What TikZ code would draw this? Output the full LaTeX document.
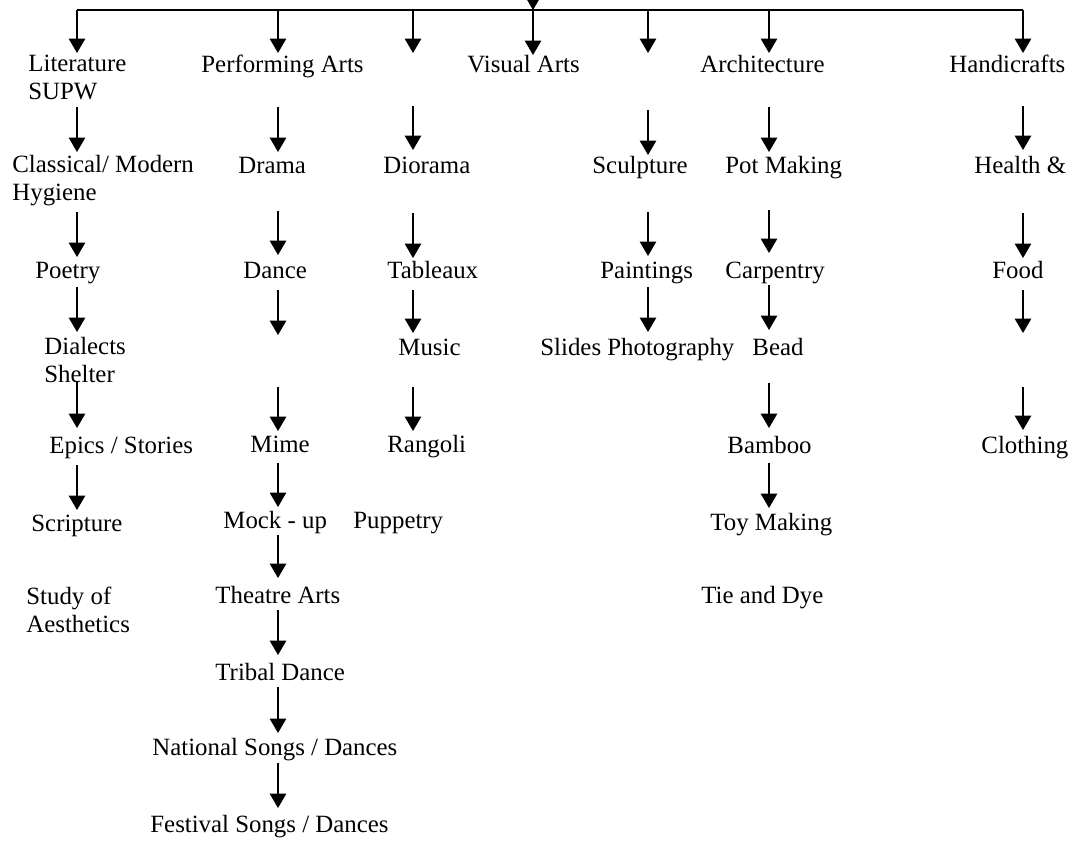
\documentclass[tikz,border=0pt]{standalone}
\usepackage{fontspec}
\setmainfont{Liberation Serif}
\usetikzlibrary{arrows.meta}

\begin{document}
\begin{tikzpicture}[x=0.483pt,y=-0.483pt,
    arr/.style={-{Triangle[length=7pt,width=8pt]},line width=0.6pt},
    lbl/.style={anchor=base west,inner sep=0pt,align=left,font=\fontsize{12}{13.5}\selectfont}]
\useasboundingbox (0,0) rectangle (1073,842);

% bar on top
\coordinate (in) at (533,-20);
\coordinate (barm) at (533,10);
\coordinate (barl) at (77,10);
\coordinate (barr) at (1023,10);
\draw[line width=0.6pt] (barl) -- (barr);
\draw[arr] (in) -- (barm);

% two-line labels sit on the baseline of their last line
\begin{scope}[every node/.style={lbl}]
    \node (lit) at (28,99) {Literature\\SUPW};
    \node (perf) at (201,72) {Performing Arts};
    \node (vis) at (467,72) {Visual Arts};
    \node (arch) at (700,72) {Architecture};
    \node (hand) at (949,72) {Handicrafts};

    \node (clas) at (12,200) {Classical/ Modern\\Hygiene};
    \node (drama) at (238,173) {Drama};
    \node (dior) at (383,173) {Diorama};
    \node (sculp) at (592,173) {Sculpture};
    \node (pot) at (725,173) {Pot Making};
    \node (health) at (974,173) {Health \&};

    \node (poet) at (35,278) {Poetry};
    \node (dance) at (243,278) {Dance};
    \node (tabl) at (387,278) {Tableaux};
    \node (paint) at (600,278) {Paintings};
    \node (carp) at (725,278) {Carpentry};
    \node (food) at (992,278) {Food};

    \node (dial) at (44,382) {Dialects\\Shelter};
    \node (music) at (398,355) {Music};
    \node (slide) at (540,355) {Slides Photography};
    \node (bead) at (752,355) {Bead};

    \node (epic) at (49,453) {Epics / Stories};
    \node (mime) at (250,452) {Mime};
    \node (rang) at (387,452) {Rangoli};
    \node (bamb) at (727,453) {Bamboo};
    \node (cloth) at (981,453) {Clothing};

    \node (scrip) at (31,531) {Scripture};
    \node (mock) at (223,528) {Mock - up};
    \node (pupp) at (353,528) {Puppetry};
    \node (toy) at (710,530) {Toy Making};

    \node (study) at (26,632) {Study of\\Aesthetics};
    \node (theat) at (215,603) {Theatre Arts};
    \node (tie) at (701,603) {Tie and Dye};

    \node (tribal) at (215,680) {Tribal Dance};
    \node (natl) at (152,755) {National Songs / Dances};
    \node (fest) at (150,832) {Festival Songs / Dances};
\end{scope}

% down arrows, column by column
\foreach \x/\ya/\yb [count=\i] in {
    77/10/53, 77/107/152, 77/212/257, 77/287/332, 77/382/428, 77/465/510,
    278/10/53, 278/107/152, 278/211/255, 278/290/335, 278/387/431,
    278/463/507, 278/535/578, 278/610/655, 278/687/733, 278/763/808,
    413/10/53, 413/106/150, 413/213/258, 413/290/333, 413/387/431,
    533/10/55,
    648/10/53, 648/110/155, 648/212/256, 648/287/332,
    769/10/53, 769/107/152, 769/210/253, 769/285/330, 769/383/428, 769/463/508,
    1023/10/53, 1023/106/150, 1023/213/258, 1023/290/333, 1023/387/430} {
    \coordinate (s\i) at (\x,\ya);
    \coordinate (t\i) at (\x,\yb);
    \draw[arr] (s\i) -- (t\i);
}
\end{tikzpicture}
\end{document}
